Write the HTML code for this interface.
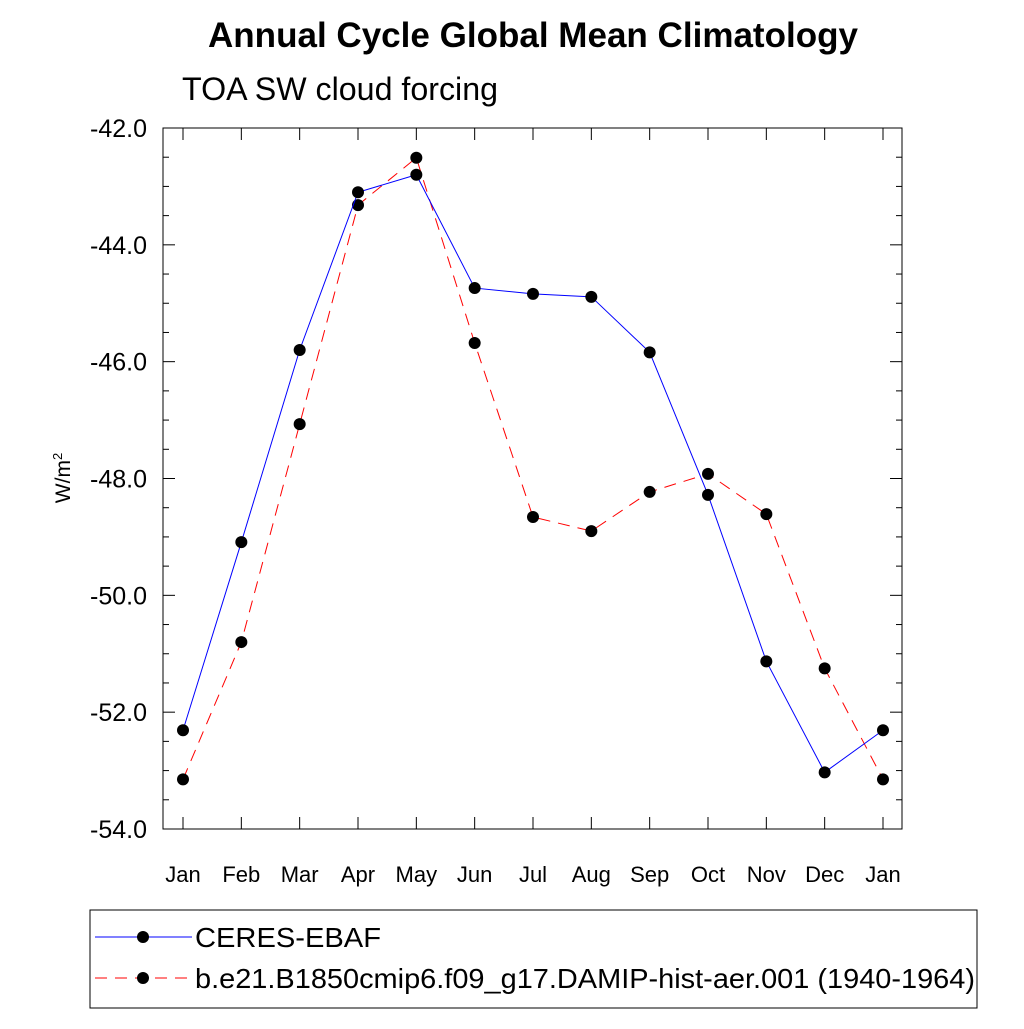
<!DOCTYPE html>
<html><head><meta charset="utf-8"><style>
body{margin:0;background:#fff;}
svg{font-family:"Liberation Sans",sans-serif;}
</style></head><body>
<svg id="chart" width="1024" height="1024" xmlns="http://www.w3.org/2000/svg">
<rect width="1024" height="1024" fill="#fff"/>
<text x="533" y="47" font-size="35" font-weight="bold" text-anchor="middle" textLength="650" lengthAdjust="spacingAndGlyphs">Annual Cycle Global Mean Climatology</text>
<text x="182" y="100" font-size="32" textLength="316" lengthAdjust="spacingAndGlyphs">TOA SW cloud forcing</text>
<text transform="translate(70,478) rotate(-90)" font-size="21" text-anchor="middle">W/m<tspan font-size="13" dy="-8">2</tspan></text>
<g id="axes"></g>
<g id="series"></g>
<g>
<rect x="90" y="910" width="887" height="98" fill="none" stroke="#000" stroke-width="1"/>
<g>
<line x1="95" y1="937" x2="192" y2="937" stroke="#0000ff" stroke-width="1"/>
<circle cx="143" cy="937" r="6" fill="#000"/>
<text x="195" y="947" font-size="28" textLength="186" lengthAdjust="spacingAndGlyphs">CERES-EBAF</text></g>
<g>
<line x1="95" y1="978" x2="192" y2="978" stroke="#ff0000" stroke-width="1" stroke-dasharray="12,8"/>
<circle cx="143" cy="978" r="6" fill="#000"/>
<text x="195" y="988" font-size="28" textLength="780" lengthAdjust="spacingAndGlyphs">b.e21.B1850cmip6.f09_g17.DAMIP-hist-aer.001 (1940-1964)</text></g>
</g>
</svg>
<script>
const months=["Jan","Feb","Mar","Apr","May","Jun","Jul","Aug","Sep","Oct","Nov","Dec","Jan"];
const ceres=[-52.31,-49.09,-45.80,-43.10,-42.80,-44.74,-44.84,-44.89,-45.84,-48.28,-51.13,-53.03,-52.31];
const model=[-53.15,-50.80,-47.07,-43.32,-42.51,-45.68,-48.66,-48.90,-48.23,-47.92,-48.61,-51.25,-53.15];
const yTicks=[-42,-44,-46,-48,-50,-52,-54];
const NS="http://www.w3.org/2000/svg";
const L=163,R=902,T=128,B=829;
function xs(i){return 183+i*(883-183)/12;}
function ys(v){return T+(-42-v)*(B-T)/12;}
function mk(tag,a,p){const e=document.createElementNS(NS,tag);for(const k in a)e.setAttribute(k,a[k]);p.appendChild(e);return e;}
const ax=document.getElementById('axes');
const fr=mk('rect',{x:L,y:T,width:R-L,height:B-T,fill:'none',stroke:'#000','stroke-width':1},ax);


for(let v=-42;v>=-54;v-=0.5){
  const y=ys(v);const major=Math.abs(v%2)<1e-9;const len=major?12:6;
  mk('line',{x1:L,y1:y,x2:L+len,y2:y,stroke:'#000'},ax);
  mk('line',{x1:R,y1:y,x2:R-len,y2:y,stroke:'#000'},ax);
}
yTicks.forEach(v=>{
  const t=mk('text',{x:L-16,y:ys(v)+9,'font-size':25,'text-anchor':'end'},ax);
  t.textContent=v.toFixed(1);
  
  
});
months.forEach((m,i)=>{
  const x=xs(i);
  mk('line',{x1:x,y1:T,x2:x,y2:T+12,stroke:'#000'},ax);
  mk('line',{x1:x,y1:B,x2:x,y2:B-12,stroke:'#000'},ax);
  const t=mk('text',{x:x,y:882,'font-size':22,'text-anchor':'middle'},ax);
  t.textContent=m;
  
  
});
const sg=document.getElementById('series');
function draw(vals,color,dash,name){
  const g=mk('g',{},sg);
  
  
  const pts=vals.map((v,i)=>xs(i)+','+ys(v)).join(' ');
  const a={points:pts,fill:'none',stroke:color,'stroke-width':1};
  if(dash)a['stroke-dasharray']=dash;
  mk('polyline',a,g);
  vals.forEach((v,i)=>{
    const c=mk('circle',{cx:xs(i),cy:ys(v),r:6,fill:'#000'},g);
    
    
  });
}
draw(model,'#ff0000','12,8','series-model');
draw(ceres,'#0000ff',null,'series-ceres');
</script>
</body></html>
